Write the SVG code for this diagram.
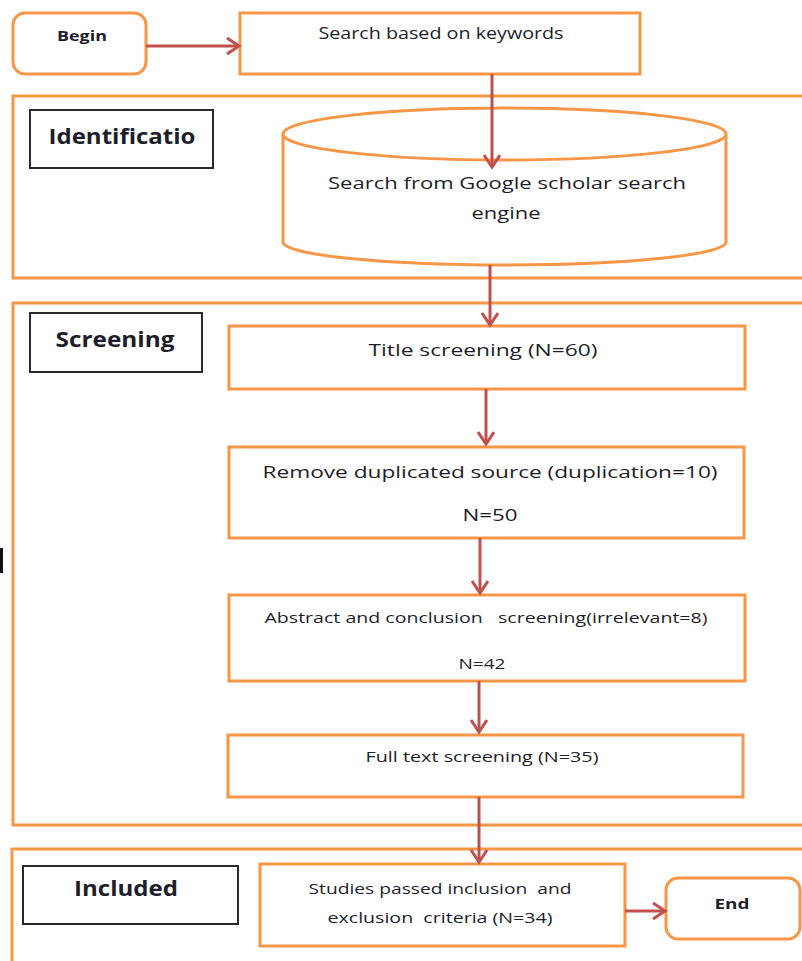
<svg xmlns="http://www.w3.org/2000/svg" width="802" height="961" viewBox="0 0 802 961">
<defs>
<style>
.o{fill:#fff;stroke:#F79646;stroke-width:3}
.lab{fill:#fff;stroke:#2a2a2a;stroke-width:2}
.t{font-family:"Open Sans","Liberation Sans",sans-serif;fill:#1e1e2a;text-anchor:middle;dominant-baseline:central}
.b{font-weight:bold}
.c{fill:none;stroke:#C0504D;stroke-width:3}
</style>
<marker id="ah" markerUnits="userSpaceOnUse" markerWidth="20" markerHeight="20" refX="13" refY="9" orient="auto">
<path d="M1,1 L13,9 L1,17" fill="none" stroke="#C0504D" stroke-width="3"/>
</marker>
</defs>
<rect width="802" height="961" fill="#fff"/>
<g id="frame-identification"><rect class="o" x="13" y="96" width="800" height="182"/></g>
<g id="frame-screening"><rect class="o" x="13" y="303" width="800" height="522"/></g>
<g id="frame-included"><rect class="o" x="12" y="849" width="800" height="200"/></g>
<rect x="0" y="548" width="3" height="25" fill="#111"/>
<g id="begin"><rect class="o" x="13" y="13" width="133" height="61" rx="12"/><text class="t b" x="82" y="35" font-size="15" textLength="50" lengthAdjust="spacingAndGlyphs">Begin</text></g>
<g id="search-keywords"><rect class="o" x="240" y="13" width="400" height="61"/><text class="t" x="441" y="33" font-size="16" textLength="245" lengthAdjust="spacingAndGlyphs">Search based on keywords</text></g>
<g id="label-identification"><rect class="lab" x="30" y="110" width="183" height="58"/><text class="t b" x="122" y="135" font-size="22" textLength="147" lengthAdjust="spacingAndGlyphs">Identificatio</text></g>
<g id="google-scholar">
<path class="o" d="M283,134 L283,242 A221.5,23 0 0 0 726,242 L726,134"/>
<ellipse class="o" cx="504.5" cy="134" rx="221.5" ry="26"/>
<text class="t" x="507" y="182" font-size="17" textLength="358" lengthAdjust="spacingAndGlyphs">Search from Google scholar search</text>
<text class="t" x="506" y="212" font-size="17" textLength="69" lengthAdjust="spacingAndGlyphs">engine</text>
</g>
<g id="label-screening"><rect class="lab" x="30" y="313" width="172" height="59"/><text class="t b" x="115" y="339" font-size="21" textLength="119" lengthAdjust="spacingAndGlyphs">Screening</text></g>
<g id="title-screening"><rect class="o" x="229" y="326" width="516" height="63"/><text class="t" x="483" y="350" font-size="16" textLength="229" lengthAdjust="spacingAndGlyphs">Title screening (N=60)</text></g>
<g id="remove-duplicates"><rect class="o" x="229" y="447" width="515" height="91"/><text class="t" x="490" y="472" font-size="16" textLength="455" lengthAdjust="spacingAndGlyphs">Remove duplicated source (duplication=10)</text><text class="t" x="490" y="515" font-size="16" textLength="55" lengthAdjust="spacingAndGlyphs">N=50</text></g>
<g id="abstract-screening"><rect class="o" x="229" y="595" width="516" height="86"/><text class="t" x="486" y="617" font-size="15" textLength="443" lengthAdjust="spacingAndGlyphs" xml:space="preserve">Abstract and conclusion   screening(irrelevant=8)</text><text class="t" x="482" y="663" font-size="15" textLength="47" lengthAdjust="spacingAndGlyphs">N=42</text></g>
<g id="full-text-screening"><rect class="o" x="228" y="735" width="515" height="62"/><text class="t" x="482" y="756" font-size="15" textLength="233" lengthAdjust="spacingAndGlyphs">Full text screening (N=35)</text></g>
<g id="label-included"><rect class="lab" x="23" y="866" width="215" height="58"/><text class="t b" x="126" y="888" font-size="21" textLength="104" lengthAdjust="spacingAndGlyphs">Included</text></g>
<g id="studies-passed"><rect class="o" x="260" y="864" width="365" height="82"/><text class="t" x="440" y="888" font-size="15" textLength="263" lengthAdjust="spacingAndGlyphs" xml:space="preserve">Studies passed inclusion  and</text><text class="t" x="440" y="917" font-size="15" textLength="225" lengthAdjust="spacingAndGlyphs" xml:space="preserve">exclusion  criteria (N=34)</text></g>
<g id="end"><rect class="o" x="666" y="878" width="134" height="61" rx="12"/><text class="t b" x="732" y="903" font-size="15" textLength="35" lengthAdjust="spacingAndGlyphs">End</text></g>
<g id="connectors">
<line class="c" x1="146" y1="46" x2="239" y2="46" marker-end="url(#ah)"/>
<line class="c" x1="492" y1="74" x2="492" y2="167" marker-end="url(#ah)"/>
<line class="c" x1="490" y1="265" x2="490" y2="325" marker-end="url(#ah)"/>
<line class="c" x1="486" y1="389" x2="486" y2="444" marker-end="url(#ah)"/>
<line class="c" x1="480" y1="538" x2="480" y2="593" marker-end="url(#ah)"/>
<line class="c" x1="479" y1="681" x2="479" y2="732" marker-end="url(#ah)"/>
<line class="c" x1="479" y1="797" x2="479" y2="862" marker-end="url(#ah)"/>
<line class="c" x1="625" y1="911" x2="665" y2="911" marker-end="url(#ah)"/>
</g>
</svg>
